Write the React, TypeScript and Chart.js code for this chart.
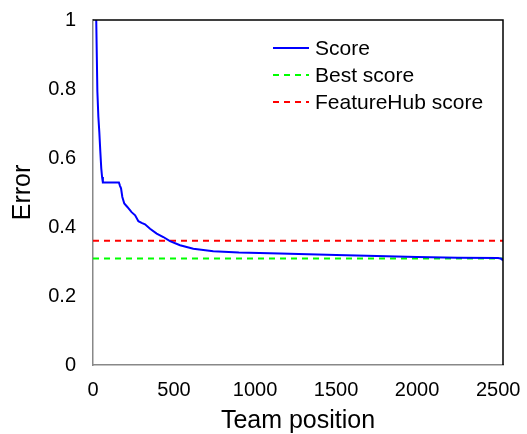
import React, { useEffect, useRef } from "react";
import { Chart, registerables } from "chart.js";

Chart.register(...registerables);

const scoreX = [14, 20, 27, 33, 39, 45, 51, 56, 61, 100, 160, 166, 173, 181, 193, 212, 238, 260, 280, 300, 321, 352, 393, 434, 475, 537, 619, 742, 900, 1154, 1500, 1750, 2000, 2250, 2500, 2520, 2530];
const scoreY = [1.08, 1.0, 0.793, 0.72, 0.675, 0.62, 0.57, 0.545, 0.529, 0.529, 0.529, 0.52, 0.512, 0.487, 0.468, 0.458, 0.443, 0.434, 0.417, 0.412, 0.408, 0.395, 0.381, 0.371, 0.359, 0.347, 0.337, 0.33, 0.326, 0.323, 0.319, 0.316, 0.313, 0.311, 0.31, 0.308, 0.303];
const bestScore = 0.309;
const featureHubScore = 0.3605;
const xRange = [0, 2530];
const xTicks = [0, 500, 1000, 1500, 2000, 2500];
const yTicks = [0, 0.2, 0.4, 0.6, 0.8, 1];
const legendLabels = ["Score", "Best score", "FeatureHub score"];
const legendColors = ["#0000ff", "#00ff00", "#ff0000"];

const FONT = "'Liberation Sans', Arial, Helvetica, sans-serif";

const framePlugin = {
  id: "frame",
  afterDraw(chart: any) {
    const { ctx, chartArea } = chart;
    ctx.save();
    ctx.strokeStyle = "#000";
    ctx.lineWidth = 1.5;
    ctx.beginPath();
    ctx.moveTo(chartArea.left, chartArea.top);
    ctx.lineTo(chartArea.right, chartArea.top);
    ctx.lineTo(chartArea.right, chartArea.bottom);
    ctx.stroke();
    // legend
    const x0 = chartArea.left + 180;
    const y0 = chartArea.top + 28;
    const gap = 27;
    ctx.font = `21px ${FONT}`;
    ctx.textBaseline = "middle";
    ctx.textAlign = "left";
    legendLabels.forEach((lab, i) => {
      const y = y0 + i * gap;
      ctx.strokeStyle = legendColors[i];
      ctx.lineWidth = 2;
      ctx.setLineDash(i === 0 ? [] : [6, 5]);
      ctx.beginPath();
      ctx.moveTo(x0, y);
      ctx.lineTo(x0 + 36, y);
      ctx.stroke();
      ctx.setLineDash([]);
      ctx.fillStyle = "#000";
      ctx.fillText(lab, x0 + 42, y + 1);
    });
    ctx.restore();
  },
};

export default function App() {
  const ref = useRef<HTMLCanvasElement>(null);
  useEffect(() => {
    document.body.style.margin = "0";
    const scoreData = scoreX.map((x, i) => ({ x, y: scoreY[i] }));
    const chart = new Chart(ref.current!, {
      type: "line",
      data: {
        datasets: [
          {
            label: legendLabels[0],
            data: scoreData,
            borderColor: legendColors[0],
            borderWidth: 2,
            pointRadius: 0,
            tension: 0,
          },
          {
            label: legendLabels[1],
            data: [{ x: xRange[0], y: bestScore }, { x: xRange[1], y: bestScore }],
            borderColor: legendColors[1],
            borderWidth: 2,
            borderDash: [6, 5],
            pointRadius: 0,
          },
          {
            label: legendLabels[2],
            data: [{ x: xRange[0], y: featureHubScore }, { x: xRange[1], y: featureHubScore }],
            borderColor: legendColors[2],
            borderWidth: 2,
            borderDash: [6, 5],
            pointRadius: 0,
          },
        ],
      },
      options: {
        animation: false,
        responsive: false,
        devicePixelRatio: 1,
        layout: { padding: { top: 20, right: 24, left: 0, bottom: 0 } },
        plugins: { legend: { display: false }, tooltip: { enabled: false } },
        scales: {
          x: {
            type: "linear",
            min: xRange[0],
            max: xRange[1],
            afterFit: (s: any) => {
              s.height = 434 - 365;
              s.paddingLeft = 0;
              s.paddingRight = 0;
            },
            afterBuildTicks: (s: any) => { s.ticks = xTicks.map((v) => ({ value: v })); },
            ticks: {
              color: "#000",
              font: { family: FONT, size: 20 },
              padding: 8,
              maxRotation: 0,
              autoSkip: false,
              callback: (v: any) => String(v),
            },
            grid: { display: false, drawTicks: true, tickLength: 5, tickColor: "#999", tickWidth: 1.5 } as any,
            border: { color: "#888", width: 1.5 },
            title: {
              display: true,
              text: "Team position",
              color: "#000",
              font: { family: FONT, size: 25, lineHeight: 1 },
              padding: { top: 0, bottom: 0 },
            },
          },
          y: {
            type: "linear",
            min: 0,
            max: 1,
            afterFit: (s: any) => {
              s.width = 93;
              s.paddingTop = 0;
              s.paddingBottom = 0;
            },
            afterBuildTicks: (s: any) => { s.ticks = yTicks.map((v) => ({ value: v })); },
            ticks: {
              color: "#000",
              font: { family: FONT, size: 20 },
              padding: 12,
              callback: (v: any) => String(Math.round(Number(v) * 10) / 10),
            },
            grid: { display: false, drawTicks: true, tickLength: 5, tickColor: "#999", tickWidth: 1.5 } as any,
            border: { color: "#888", width: 1.5 },
            title: {
              display: true,
              text: "Error",
              color: "#000",
              font: { family: FONT, size: 25 },
              padding: { top: 8, bottom: 0 },
            },
          },
        },
      },
      plugins: [framePlugin],
    });
    return () => chart.destroy();
  }, []);
  return <canvas ref={ref} width={527} height={434} style={{ display: "block" }} />;
}
